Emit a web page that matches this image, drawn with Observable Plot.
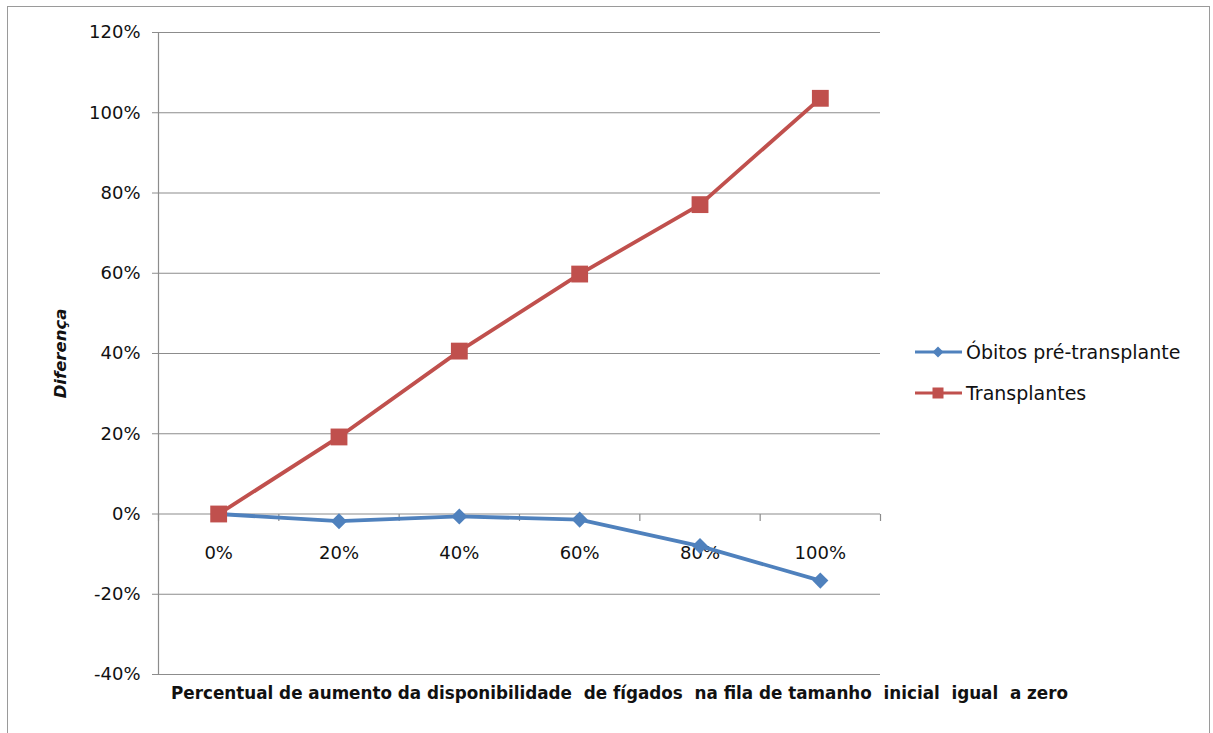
<!DOCTYPE html>
<html>
<head>
<meta charset="utf-8">
<script src="https://cdn.jsdelivr.net/npm/d3@7"></script>
<script src="https://cdn.jsdelivr.net/npm/@observablehq/plot@0.6"></script>
<style>
  html, body { margin: 0; padding: 0; background: #fff; }
  #wrap { position: relative; width: 1213px; height: 733px; overflow: hidden; font-family: "DejaVu Sans", sans-serif; }
  #border { position: absolute; left: 7px; top: 6px; width: 1203px; height: 740px; border: 1px solid #9a9a9a; box-sizing: border-box; }
  #legend { position: absolute; left: 915px; top: 331px; font-size: 19px; color: #111; }
  .item { display: flex; align-items: center; height: 41px; }
  .item svg { margin-right: 4px; }
  svg text.xtitle { white-space: pre; }
</style>
</head>
<body>
<div id="wrap"><div id="border"></div><div id="legend"></div></div>
<script>
const categories = ["0%", "20%", "40%", "60%", "80%", "100%"];
const obitos = [0, -0.018, -0.006, -0.014, -0.08, -0.166];
const transplantes = [0, 0.192, 0.406, 0.598, 0.771, 1.036];
const yTicks = [-0.4, -0.2, 0, 0.2, 0.4, 0.6, 0.8, 1.0, 1.2];
const seriesNames = ["Óbitos pré-transplante", "Transplantes"];
const seriesColors = ["#4F81BD", "#C0504D"];
const yTitle = "Diferença";
const xTitle = "Percentual de aumento da disponibilidade  de fígados  na fila de tamanho  inicial  igual  a zero";

const rows = [];
categories.forEach((c, i) => {
  rows.push({i, cat: c, series: seriesNames[0], value: obitos[i]});
  rows.push({i, cat: c, series: seriesNames[1], value: transplantes[i]});
});
const boundaries = categories.map((d, i) => i - 0.5).concat([categories.length - 0.5]);

const diamond = {draw(ctx, size) { const h = Math.sqrt(size / 2); ctx.moveTo(0, -h); ctx.lineTo(h, 0); ctx.lineTo(0, h); ctx.lineTo(-h, 0); ctx.closePath(); }};
const square = {draw(ctx, size) { const h = Math.sqrt(size) / 2; ctx.rect(-h, -h, 2 * h, 2 * h); }};
const downTick = {draw(ctx, size) { ctx.moveTo(0, 0); ctx.lineTo(0, 7); }};
const fmt = d => Math.round(d * 100) + "%";

const chart = Plot.plot({
  width: 1213,
  height: 733,
  marginLeft: 158,
  marginRight: 333,
  marginTop: 32,
  marginBottom: 59,
  style: {fontFamily: "'DejaVu Sans', sans-serif", fontSize: "18px", color: "#111", background: "transparent"},
  x: {domain: [-0.5, categories.length - 0.5], axis: null},
  y: {domain: [yTicks[0], yTicks[yTicks.length - 1]], axis: null},
  color: {domain: seriesNames, range: seriesColors},
  marks: [
    Plot.ruleY(yTicks, {stroke: "#8c8c8c", strokeWidth: 1.2}),
    Plot.ruleX([boundaries[0]], {stroke: "#8c8c8c", strokeWidth: 1.2}),
    Plot.axisY({ticks: yTicks, tickFormat: fmt, tickSize: 6, tickPadding: 12, stroke: "#8c8c8c", fill: "#111", fontSize: 18, label: null}),
    Plot.dot(boundaries, {x: d => d, y: () => 0, symbol: downTick, r: 3, stroke: "#8c8c8c", strokeWidth: 1.2, fill: "none"}),
    Plot.text(categories, {x: (d, i) => i, y: () => 0, text: d => d, dy: 39, fill: "#111", fontSize: 18}),
    Plot.line(rows, {x: "i", y: "value", z: "series", stroke: "series", strokeWidth: 3.8}),
    Plot.dot(rows.filter(d => d.series === seriesNames[0]), {x: "i", y: "value", symbol: diamond, r: 6.4, fill: seriesColors[0], stroke: null}),
    Plot.dot(rows.filter(d => d.series === seriesNames[1]), {x: "i", y: "value", symbol: square, r: 9.5, fill: seriesColors[1], stroke: null}),
    Plot.text([yTitle], {frameAnchor: "left", textAnchor: "middle", lineAnchor: "middle", dx: -98, rotate: -90, text: d => d, fontWeight: "bold", fontStyle: "italic", fontSize: 16.5, fill: "#111"}),
    Plot.text([xTitle], {frameAnchor: "bottom", textAnchor: "middle", lineAnchor: "middle", dx: 100, dy: 19, text: d => d, fontWeight: "bold", fontSize: 16.8, fill: "#111", className: "xtitle"})
  ]
});
document.getElementById("wrap").appendChild(chart);
chart.style.position = "absolute";
chart.style.left = "0";
chart.style.top = "0";

const legend = document.getElementById("legend");
seriesNames.forEach((name, k) => {
  const item = document.createElement("div");
  item.className = "item";
  const marker = k === 0
    ? `<polygon points="23,2.5 28.5,8 23,13.5 17.5,8" fill="${seriesColors[k]}"/>`
    : `<rect x="17.5" y="2.5" width="11" height="11" fill="${seriesColors[k]}"/>`;
  item.innerHTML = `<svg width="47" height="16"><line x1="0" x2="47" y1="8" y2="8" stroke="${seriesColors[k]}" stroke-width="3"/>${marker}</svg><span>${name}</span>`;
  legend.appendChild(item);
});
</script>
</body>
</html>
